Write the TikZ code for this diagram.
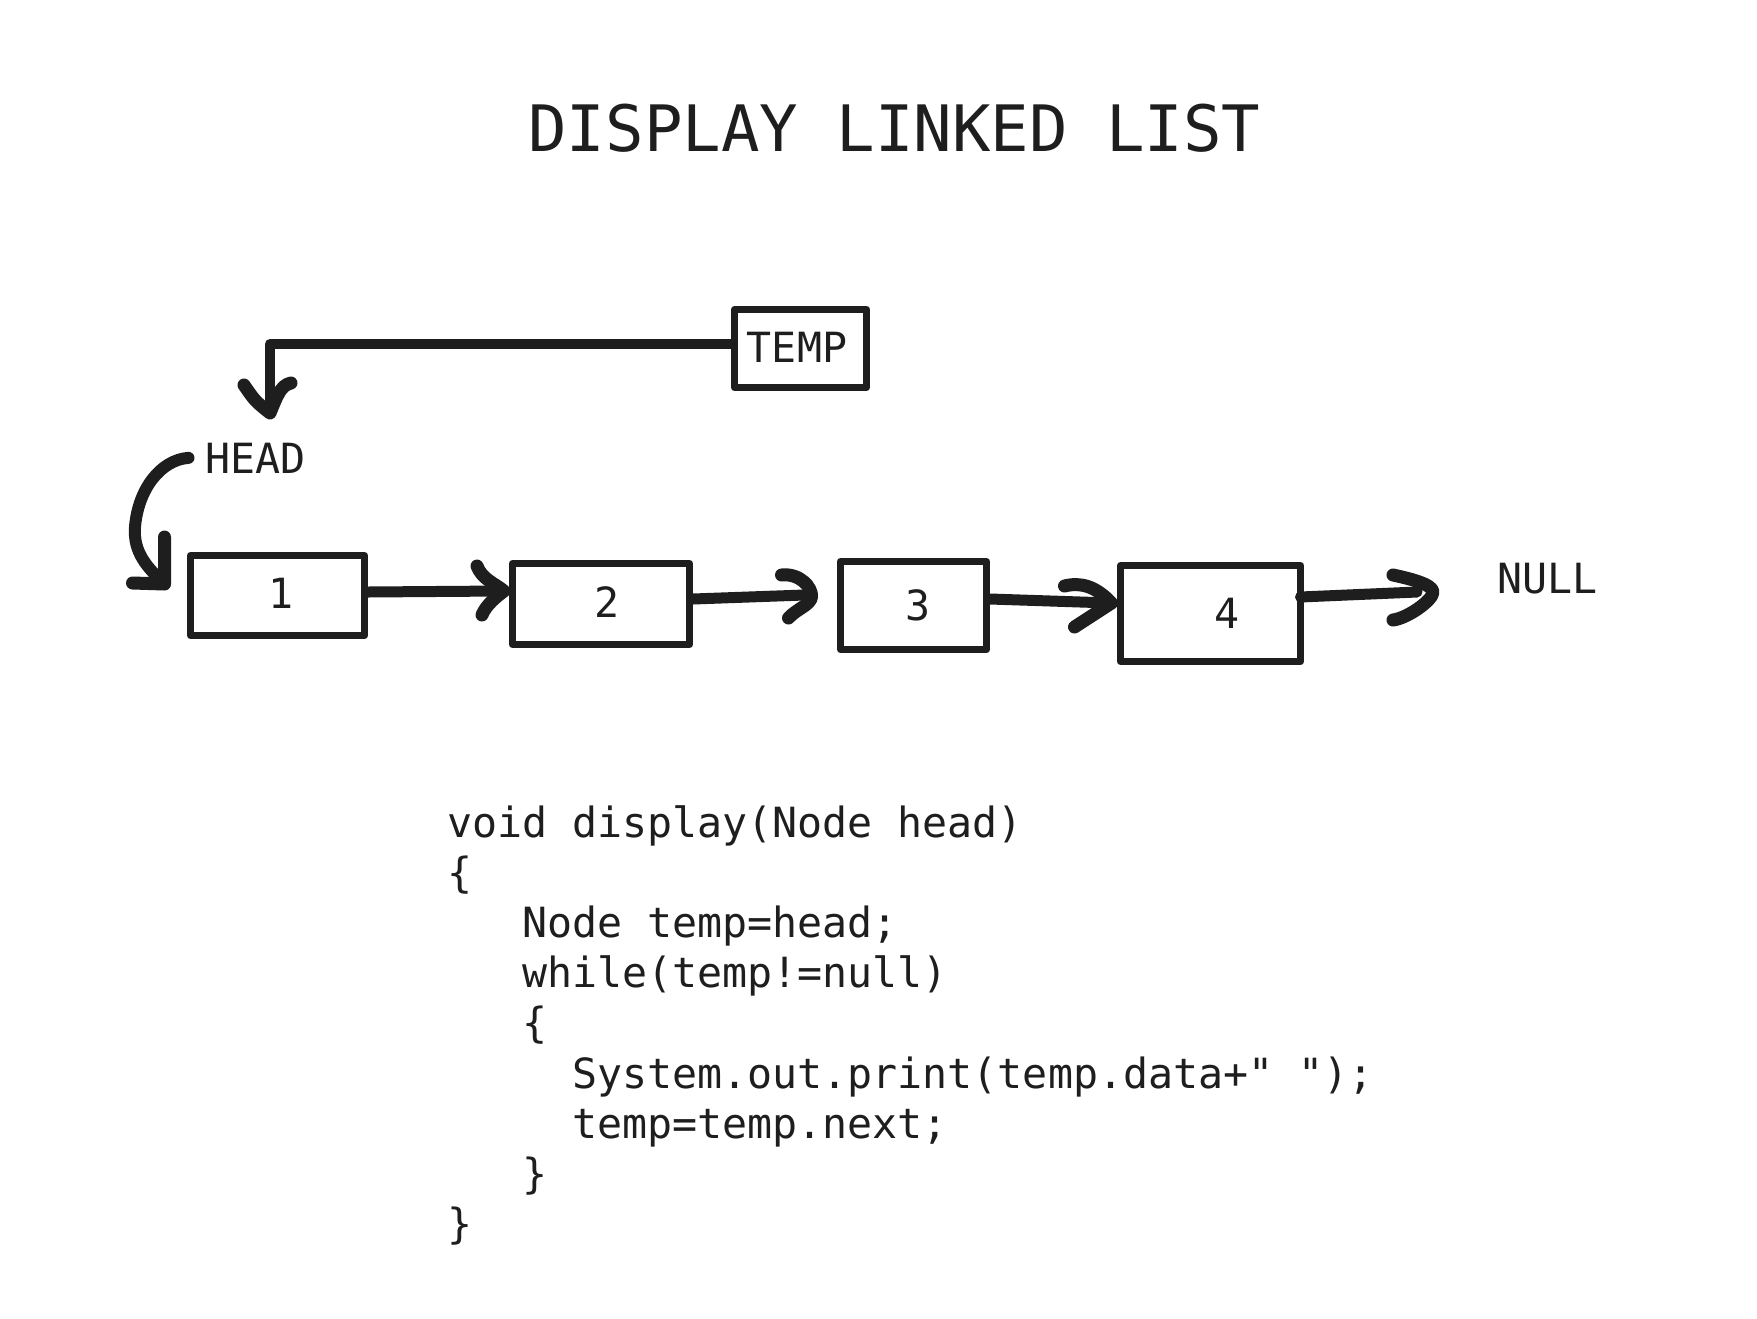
\documentclass[tikz,border=0pt]{standalone}
\usepackage{fontspec}
\newfontfamily\monof{DejaVu Sans Mono}
\usetikzlibrary{calc}
\definecolor{ink}{HTML}{1E1E1E}
\tikzset{
  listbox/.style={draw=ink, line width=7pt, line join=round, rectangle, inner sep=0pt},
  lbl/.style={font=\monof\fontsize{41.6}{50}\selectfont, text=ink, inner sep=0pt, outer sep=0pt},
  codeline/.style={lbl, anchor=base west},
  link/.style={draw=ink, line width=11pt, line cap=round, line join=round},
  headstroke/.style={draw=ink, line width=13pt, line cap=round, line join=round},
}
\begin{document}
\begin{tikzpicture}[x=1pt,y=-1pt]
\fill[white] (0,0) rectangle (1757,1318);
\useasboundingbox (0,0) rectangle (1757,1318);

% title
\node[font=\monof\fontsize{64}{70}\selectfont, text=ink, inner sep=0pt, anchor=base] (title) at (894.5,151) {DISPLAY LINKED LIST};

% TEMP box
\node[listbox, minimum width=132pt, minimum height=78pt] (tb) at (800.5,348.5) {};
\node[lbl, anchor=base] (tt) at (797,362) {TEMP};

% HEAD and NULL labels
\node[lbl, anchor=base west] (hd) at (205.5,473) {HEAD};
\node[lbl, anchor=base west] (nl) at (1497.5,593) {NULL};

% list boxes
\node[listbox, minimum width=174pt, minimum height=80pt] (b1) at (277.5,595.5) {};
\node[listbox, minimum width=177pt, minimum height=81pt] (b2) at (601,604) {};
\node[listbox, minimum width=146pt, minimum height=88pt] (b3) at (913.5,605.5) {};
\node[listbox, minimum width=180pt, minimum height=96pt] (b4) at (1210.5,613.5) {};
\node[lbl, anchor=base] (d1) at (281,608) {1};
\node[lbl, anchor=base] (d2) at (607,617) {2};
\node[lbl, anchor=base] (d3) at (918,620) {3};
\node[lbl, anchor=base] (d4) at (1227,628) {4};

% connector end points
\coordinate (htip) at (270,409);
\coordinate (e1) at ([xshift=-22.5pt,yshift=11.5pt]b1.west);
\coordinate (e12) at ([xshift=-7pt,yshift=13pt]b2.west);
\coordinate (e23) at ([xshift=-32.5pt,yshift=10.5pt]b3.west);
\coordinate (e34) at ([xshift=-6.5pt,yshift=10.5pt]b4.west);
\coordinate (nullend) at (1417,592);

% TEMP -> HEAD
\draw[draw=ink, line width=10pt, line cap=round, line join=round] ([yshift=4.5pt]tb.west) -| (htip);
\draw[headstroke, shift={(htip)}] (-26,-24) .. controls (-15,-8) .. (0,4) .. controls (6,-10) and (10,-24) .. (21,-26);

% HEAD -> node 1
\draw[draw=ink, line width=12pt, line cap=round, line join=round]
  ([xshift=-17pt]hd.west) .. controls (160,460) and (138,490) .. (135,527)
  .. controls (133,553) and (148,568) .. (e1);
\draw[headstroke, shift={(e1)}] (0,-47) -- (0,0) -- (-32,-1);

% 1 -> 2
\draw[link] ([yshift=3.5pt]b1.east) -- (e12);
\draw[headstroke, shift={(e12)}] (-25,-25) .. controls (-20,-12) and (-8,-8) .. (2,0) .. controls (-6,6) and (-16,14) .. (-20,24);

% 2 -> 3
\draw[link] ([yshift=5pt]b2.east) -- (e23);
\draw[headstroke, shift={(e23)}] (-23,-20) .. controls (-5,-22) and (8,-8) .. (7,2) .. controls (6,10) and (-8,14) .. (-16,23);

% 3 -> 4
\draw[link] ([yshift=6.5pt]b3.east) -- (e34);
\draw[headstroke, shift={(e34)}] (-46,-17) .. controls (-30,-21) and (-15,-17) .. (1,0) -- (-36,24);

% 4 -> NULL
\draw[link] ([xshift=-3.5pt,yshift=16.5pt]b4.east) -- (nullend);
\draw[headstroke, shift={(nullend)}] (-24,-17) .. controls (-10,-14) and (16,-8) .. (16,0) .. controls (16,8) and (-9,26) .. (-24,28);

% code
\node[codeline] (c1) at (447,837) {void display(Node head)};
\node[codeline] (c2) at (447,887) {\{};
\node[codeline] (c3) at (522.1,937) {Node temp=head;};
\node[codeline] (c4) at (522.1,987) {while(temp!=null)};
\node[codeline] (c5) at (522.1,1037) {\{};
\node[codeline] (c6) at (572.2,1088) {System.out.print(temp.data+" ");};
\node[codeline] (c7) at (572.2,1138) {temp=temp.next;};
\node[codeline] (c8) at (522.1,1188) {\}};
\node[codeline] (c9) at (447,1238) {\}};
\end{tikzpicture}
\end{document}
